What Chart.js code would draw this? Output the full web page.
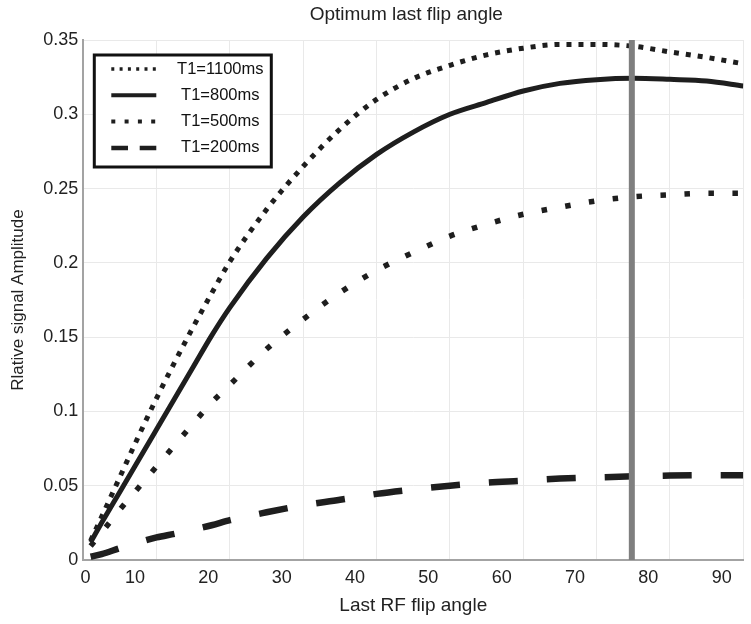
<!DOCTYPE html>
<html lang="en">
  <head>
    <meta charset="UTF-8" />
    <title>Optimum last flip angle</title>
    <script src="https://cdn.jsdelivr.net/npm/chart.js"></script>
    <style>
      body {
        margin: 0;
        background: #fff;
      }
      div {
        width: 751px;
        height: 624px;
      }
    </style>
  </head>
  <body>
    <div>
      <canvas id="myChart"></canvas>
    </div>

    <script>
      // values
      const flipAngles = [1, 2.5, 5, 7.5, 10, 12.5, 15, 17.5, 20, 25, 30, 35, 40, 45, 50, 55, 60, 65, 70, 75, 80, 85, 90];
      const t1100 = [0.013, 0.029, 0.056, 0.083, 0.109, 0.1335, 0.157, 0.1795, 0.201, 0.236, 0.265, 0.29, 0.31, 0.324, 0.333, 0.34, 0.3445, 0.347, 0.347, 0.3458, 0.342, 0.3383, 0.334];
      const t800 = [0.012, 0.025, 0.046, 0.067, 0.088, 0.109, 0.13, 0.151, 0.17, 0.203, 0.231, 0.254, 0.273, 0.288, 0.3, 0.308, 0.3157, 0.3208, 0.3233, 0.3242, 0.3235, 0.3224, 0.319];
      const t500 = [0.0095, 0.0185, 0.034, 0.0485, 0.063, 0.0775, 0.092, 0.106, 0.118, 0.142, 0.162, 0.18, 0.195, 0.207, 0.218, 0.226, 0.2327, 0.2375, 0.2417, 0.2445, 0.2458, 0.2468, 0.2468];
      const t200 = [0.0022, 0.004, 0.008, 0.0118, 0.0152, 0.0177, 0.0205, 0.0234, 0.0268, 0.0321, 0.0368, 0.0405, 0.0445, 0.0475, 0.05, 0.052, 0.0533, 0.0548, 0.0556, 0.0563, 0.0568, 0.057, 0.057];
      const seriesLabels = ["T1=1100ms", "T1=800ms", "T1=500ms", "T1=200ms"];
      const optimumAngle = 74.8;

      const xTickValues = [0, 10, 20, 30, 40, 50, 60, 70, 80, 90];
      const yTickValues = [0, 0.05, 0.1, 0.15, 0.2, 0.25, 0.3, 0.35];
      // 눈금 글자가 그림에서 왼쪽으로 밀려 있음
      const xLabelShift = -2.95;

      const chartTitle = "Optimum last flip angle";
      const FONT = '"Liberation Sans", Arial, sans-serif';
      Chart.defaults.font.family = FONT;
      Chart.defaults.color = "#222";

      function toPoints(ys) {
        return ys.map((y, i) => ({ x: flipAngles[i], y: y }));
      }

      // title + legend box drawn inside the plot
      const figureText = {
        id: "figureText",
        afterDatasetsDraw(chart) {
          const { ctx, chartArea } = chart;
          ctx.save();
          ctx.fillStyle = "#222";
          ctx.font = "19px " + FONT;
          ctx.textAlign = "center";
          ctx.textBaseline = "middle";
          ctx.fillText(chartTitle, (chartArea.left + chartArea.right) / 2 - 7, 15);

          const left = chartArea.left + 11;
          const top = chartArea.top + 15;
          ctx.fillStyle = "#fff";
          ctx.fillRect(left, top, 177, 112);
          ctx.lineWidth = 3;
          ctx.strokeStyle = "#111";
          ctx.setLineDash([]);
          ctx.strokeRect(left, top, 177, 112);

          let row = 0;
          chart.data.datasets.forEach((ds) => {
            if (!ds.legendDash) return;
            const y = top + 14 + row * 26.3;
            row++;
            ctx.beginPath();
            ctx.setLineDash(ds.legendDash);
            ctx.lineWidth = ds.legendWidth;
            ctx.strokeStyle = ds.borderColor;
            ctx.moveTo(left + 17, y);
            ctx.lineTo(left + 62, y);
            ctx.stroke();
            ctx.setLineDash([]);
            ctx.fillStyle = "#111";
            ctx.font = "16.5px " + FONT;
            ctx.fillText(ds.label, left + 126, y);
          });
          ctx.restore();
        },
      };

      function drawChart() {
        const ctx = document.getElementById("myChart");

        const data = {
          datasets: [
            {
              label: "optimum",
              data: [
                { x: optimumAngle, y: 0 },
                { x: optimumAngle, y: 0.35 },
              ],
              borderColor: "#7f7f7f",
              borderWidth: 6,
              pointRadius: 0,
              order: -1,
            },
            {
              label: seriesLabels[0],
              data: toPoints(t1100),
              borderColor: "#1e1e1e",
              borderWidth: 5,
              borderDash: [5, 7],
              legendDash: [3, 5.3],
              legendWidth: 3.5,
            },
            {
              label: seriesLabels[1],
              data: toPoints(t800),
              borderColor: "#1e1e1e",
              borderWidth: 5,
              legendDash: [],
              legendWidth: 4,
            },
            {
              label: seriesLabels[2],
              data: toPoints(t500),
              borderColor: "#1e1e1e",
              borderWidth: 5.5,
              borderDash: [5.5, 18.5],
              legendDash: [4, 9.3],
              legendWidth: 4,
            },
            {
              label: seriesLabels[3],
              data: toPoints(t200),
              borderColor: "#1e1e1e",
              borderWidth: 6.5,
              borderDash: [29, 29],
              legendDash: [16.7, 11.7],
              legendWidth: 4.5,
            },
          ],
        };

        const options = {
          responsive: true,
          maintainAspectRatio: false,
          animation: false,
          layout: { padding: { top: 40, right: 7.7, bottom: 0, left: 0 } },
          elements: {
            point: { radius: 0 },
            line: { cubicInterpolationMode: "monotone", fill: false },
          },
          plugins: {
            legend: { display: false },
            title: { display: false },
          },
          scales: {
            x: {
              type: "linear",
              position: "bottom",
              min: 0,
              max: 90,
              weight: 0,
              afterBuildTicks: (axis) => {
                axis.ticks = xTickValues.map((v) => ({ value: v }));
              },
              ticks: { display: false },
              grid: { color: "#e9e9e9", lineWidth: 1, drawTicks: false },
              border: { color: "#a3a3a3", width: 2 },
            },
            xLab: {
              type: "linear",
              position: "bottom",
              min: 0,
              max: 90,
              weight: 1,
              afterBuildTicks: (axis) => {
                axis.ticks = xTickValues.map((v) => ({ value: v > 0 ? v + xLabelShift : v + 0.3 }));
              },
              afterFit: (axis) => {
                axis.height = 64;
              },
              ticks: {
                autoSkip: false,
                maxRotation: 0,
                padding: 7,
                font: { size: 18 },
                color: "#222",
                callback: (value, index) => xTickValues[index],
              },
              grid: { display: false, drawTicks: false },
              border: { display: false },
              title: {
                display: true,
                text: "Last RF flip angle",
                font: { size: 19 },
                color: "#222",
                padding: { top: 4, bottom: 7 },
              },
            },
            y: {
              min: 0,
              max: 0.35,
              afterBuildTicks: (axis) => {
                axis.ticks = yTickValues.map((v) => ({ value: v }));
              },
              afterFit: (axis) => {
                axis.width = 83.3;
              },
              ticks: {
                padding: 5,
                font: { size: 18 },
                color: "#222",
                callback: (value) => String(+value.toFixed(2)),
              },
              grid: { color: "#e9e9e9", lineWidth: 1, drawTicks: false },
              border: { color: "#a3a3a3", width: 2 },
              title: {
                display: true,
                text: "Rlative signal Amplitude",
                font: { size: 17 },
                color: "#222",
                padding: { top: 8, bottom: 4 },
              },
            },
          },
        };

        new Chart(ctx, {
          type: "line",
          data: data,
          options: options,
          plugins: [figureText],
        });
      }
      drawChart();
    </script>
  </body>
</html>
